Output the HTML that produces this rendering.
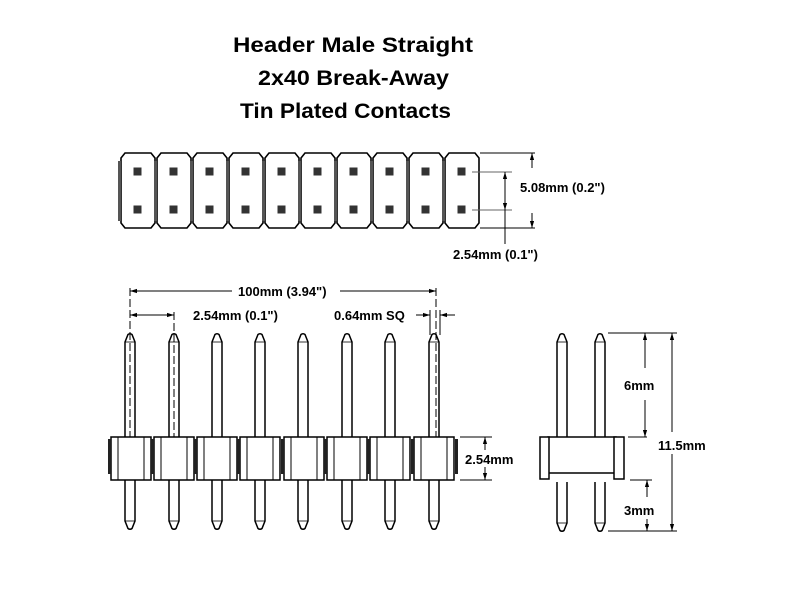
<!DOCTYPE html>
<html><head><meta charset="utf-8"><style>html,body{margin:0;padding:0;background:#fff}svg{display:block}</style></head>
<body>
<svg width="800" height="600" viewBox="0 0 800 600" xmlns="http://www.w3.org/2000/svg" font-family="Liberation Sans, sans-serif">
<defs>
<g id="blk">
 <path d="M4,0 H30 L34,5 V70 L30,75 H4 L0,70 V5 Z" fill="#fff" stroke="#000" stroke-width="1.6"/>
 <rect x="-3" y="8" width="3" height="60" fill="#555"/>
 <rect x="12.5" y="14.5" width="8" height="8" fill="#333"/>
 <rect x="12.5" y="52.5" width="8" height="8" fill="#333"/>
</g>
<g id="pinT">
 <path d="M-5,105 V9 L-2,1.5 Q0,0 2,1.5 L5,9 V105" fill="#fff" stroke="#000" stroke-width="1.5"/>
 <line x1="-5" y1="9" x2="5" y2="9" stroke="#000" stroke-width="0.8"/>
</g>
<g id="pinB">
 <path d="M-5,0 V41 L-2,48.5 Q0,50 2,48.5 L5,41 V0" fill="#fff" stroke="#000" stroke-width="1.5"/>
 <line x1="-5" y1="41" x2="5" y2="41" stroke="#000" stroke-width="0.8"/>
</g>
<g id="hblk">
 <rect x="0" y="0" width="40" height="43" fill="#fff" stroke="#000" stroke-width="1.5"/>
 <line x1="7" y1="0" x2="7" y2="43" stroke="#000" stroke-width="1"/>
 <line x1="33" y1="0" x2="33" y2="43" stroke="#000" stroke-width="1"/>
 <rect x="-3" y="2" width="3" height="35" fill="#222"/>
</g>
<marker id="ar" viewBox="0 0 10 10" refX="10" refY="5" markerWidth="7" markerHeight="7" orient="auto-start-reverse"><path d="M0,2 L10,5 L0,8 Z" fill="#000"/></marker>
</defs>

<g font-weight="bold" font-size="21" fill="#000">
<text x="233" y="52" textLength="240" lengthAdjust="spacingAndGlyphs">Header Male Straight</text>
<text x="258" y="85" textLength="191" lengthAdjust="spacingAndGlyphs">2x40 Break-Away</text>
<text x="240" y="118" textLength="211" lengthAdjust="spacingAndGlyphs">Tin Plated Contacts</text>
</g>

<!-- top view -->
<use href="#blk" x="121" y="153"/><use href="#blk" x="157" y="153"/><use href="#blk" x="193" y="153"/>
<use href="#blk" x="229" y="153"/><use href="#blk" x="265" y="153"/><use href="#blk" x="301" y="153"/>
<use href="#blk" x="337" y="153"/><use href="#blk" x="373" y="153"/><use href="#blk" x="409" y="153"/>
<use href="#blk" x="445" y="153"/>
<g stroke="#000" stroke-width="1" fill="none">
<line x1="480" y1="153" x2="535" y2="153"/><line x1="480" y1="228" x2="535" y2="228"/>
<line x1="532" y1="153" x2="532" y2="168" marker-start="url(#ar)"/>
<line x1="532" y1="213" x2="532" y2="228" marker-end="url(#ar)"/>
<line x1="472" y1="172" x2="512" y2="172" stroke="#666"/><line x1="472" y1="210" x2="512" y2="210" stroke="#666"/>
<line x1="505" y1="172" x2="505" y2="210" marker-start="url(#ar)" marker-end="url(#ar)"/>
<line x1="505" y1="210" x2="505" y2="244"/>
</g>
<g font-weight="bold" font-size="13" fill="#000">
<text x="520" y="192">5.08mm (0.2")</text>
<text x="453" y="259">2.54mm (0.1")</text>
</g>

<!-- front view -->
<use href="#pinT" x="130" y="333"/><use href="#pinT" x="174" y="333"/><use href="#pinT" x="217" y="333"/><use href="#pinT" x="260" y="333"/>
<use href="#pinT" x="303" y="333"/><use href="#pinT" x="347" y="333"/><use href="#pinT" x="390" y="333"/><use href="#pinT" x="434" y="333"/>
<use href="#pinB" x="130" y="480"/><use href="#pinB" x="174" y="480"/><use href="#pinB" x="217" y="480"/><use href="#pinB" x="260" y="480"/>
<use href="#pinB" x="303" y="480"/><use href="#pinB" x="347" y="480"/><use href="#pinB" x="390" y="480"/><use href="#pinB" x="434" y="480"/>
<use href="#hblk" x="111" y="437"/><use href="#hblk" x="154" y="437"/><use href="#hblk" x="197" y="437"/><use href="#hblk" x="240" y="437"/>
<use href="#hblk" x="284" y="437"/><use href="#hblk" x="327" y="437"/><use href="#hblk" x="370" y="437"/><use href="#hblk" x="414" y="437"/>
<rect x="455" y="439" width="3" height="35" fill="#222"/>
<g stroke="#000" stroke-width="1" fill="none">
<line x1="130" y1="288" x2="130" y2="437" stroke-dasharray="8,3"/>
<line x1="174" y1="312" x2="174" y2="437" stroke-dasharray="8,3"/>
<line x1="436" y1="288" x2="436" y2="437" stroke-dasharray="8,3"/>
<line x1="130" y1="291" x2="232" y2="291" marker-start="url(#ar)"/>
<line x1="340" y1="291" x2="436" y2="291" marker-end="url(#ar)"/>
<line x1="130" y1="315" x2="174" y2="315" marker-start="url(#ar)" marker-end="url(#ar)"/>
<line x1="430" y1="310" x2="430" y2="335"/><line x1="440" y1="310" x2="440" y2="335"/>
<line x1="416" y1="315" x2="430" y2="315" marker-end="url(#ar)"/>
<line x1="455" y1="315" x2="440" y2="315" marker-end="url(#ar)"/>
<line x1="460" y1="437" x2="492" y2="437"/><line x1="460" y1="480" x2="492" y2="480"/>
<line x1="485" y1="437" x2="485" y2="450" marker-start="url(#ar)"/>
<line x1="485" y1="467" x2="485" y2="480" marker-end="url(#ar)"/>
</g>
<g font-weight="bold" font-size="13" fill="#000">
<text x="238" y="296">100mm (3.94")</text>
<text x="193" y="320">2.54mm (0.1")</text>
<text x="334" y="320">0.64mm SQ</text>
<text x="465" y="464">2.54mm</text>
</g>

<!-- side view -->
<use href="#pinT" x="562" y="333"/><use href="#pinT" x="600" y="333"/>
<use href="#pinB" x="562" y="482"/><use href="#pinB" x="600" y="482"/>
<rect x="548" y="437" width="68" height="36" fill="#fff" stroke="#000" stroke-width="1.5"/>
<rect x="540" y="437" width="9" height="42" fill="#fff" stroke="#000" stroke-width="1.5"/>
<rect x="614" y="437" width="10" height="42" fill="#fff" stroke="#000" stroke-width="1.5"/>
<g stroke="#000" stroke-width="1" fill="none">
<line x1="608" y1="333" x2="677" y2="333"/><line x1="628" y1="437" x2="647" y2="437"/>
<line x1="630" y1="480" x2="652" y2="480"/><line x1="608" y1="531" x2="677" y2="531"/>
<line x1="645" y1="333" x2="645" y2="368" marker-start="url(#ar)"/>
<line x1="645" y1="400" x2="645" y2="437" marker-end="url(#ar)"/>
<line x1="647" y1="480" x2="647" y2="497" marker-start="url(#ar)"/>
<line x1="647" y1="519" x2="647" y2="531" marker-end="url(#ar)"/>
<line x1="672" y1="333" x2="672" y2="432" marker-start="url(#ar)"/>
<line x1="672" y1="454" x2="672" y2="531" marker-end="url(#ar)"/>
</g>
<g font-weight="bold" font-size="13" fill="#000">
<text x="624" y="390">6mm</text>
<text x="658" y="450">11.5mm</text>
<text x="624" y="515">3mm</text>
</g>
</svg>
</body></html>
